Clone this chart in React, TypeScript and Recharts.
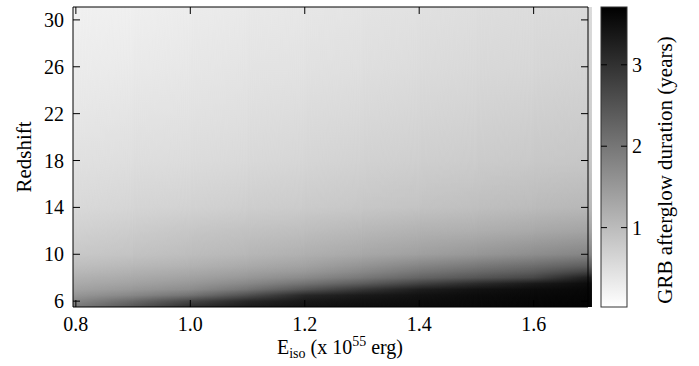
import React from 'react'
import { ComposedChart, XAxis, YAxis, ReferenceArea } from 'recharts'

// E_iso (x 10^55 erg) columns, redshift rows (top to bottom)
const energies = [0.8, 0.9, 1.0, 1.1, 1.2, 1.3, 1.4, 1.5, 1.6, 1.7]
const redshifts = [31, 26, 22, 18, 14, 12, 10, 9, 8.5, 8, 7.5, 7, 6.5, 6, 5.5]

// afterglow duration in years, one list per energy, in redshift order
const dur080 = [0.23, 0.30, 0.37, 0.46, 0.57, 0.69, 0.82, 0.96, 1.05, 1.15, 1.25, 1.37, 1.54, 1.76, 1.98]
const dur090 = [0.26, 0.33, 0.42, 0.50, 0.63, 0.76, 0.89, 1.05, 1.15, 1.25, 1.37, 1.51, 1.76, 2.19, 2.48]
const dur100 = [0.30, 0.37, 0.44, 0.53, 0.68, 0.85, 0.98, 1.14, 1.25, 1.37, 1.51, 1.69, 2.05, 2.70, 3.06]
const dur110 = [0.34, 0.42, 0.49, 0.57, 0.73, 0.91, 1.07, 1.25, 1.38, 1.53, 1.74, 2.03, 2.55, 3.13, 3.33]
const dur120 = [0.37, 0.44, 0.53, 0.62, 0.78, 0.96, 1.17, 1.37, 1.51, 1.72, 2.05, 2.48, 3.13, 3.36, 3.45]
const dur130 = [0.42, 0.49, 0.57, 0.68, 0.83, 1.05, 1.28, 1.57, 1.74, 1.98, 2.38, 2.92, 3.33, 3.45, 3.51]
const dur140 = [0.46, 0.53, 0.62, 0.72, 0.89, 1.14, 1.40, 1.79, 2.00, 2.26, 2.76, 3.28, 3.45, 3.51, 3.54]
const dur150 = [0.50, 0.57, 0.66, 0.76, 0.95, 1.18, 1.53, 1.96, 2.19, 2.48, 3.07, 3.45, 3.54, 3.57, 3.58]
const dur160 = [0.53, 0.60, 0.70, 0.81, 1.01, 1.27, 1.66, 2.13, 2.38, 2.70, 3.33, 3.54, 3.58, 3.61, 3.62]
const dur170 = [0.56, 0.65, 0.75, 0.85, 1.07, 1.35, 1.80, 2.37, 2.77, 3.31, 3.54, 3.59, 3.62, 3.64, 3.65]
const durations = [dur080, dur090, dur100, dur110, dur120, dur130, dur140, dur150, dur160, dur170]

const xTicks = [0.8, 1.0, 1.2, 1.4, 1.6]
const yTicks = [6, 10, 14, 18, 22, 26, 30]
const cbTicks = [1, 2, 3]

const X_DOMAIN: [number, number] = [0.795, 1.695]
const Y_DOMAIN: [number, number] = [5.5, 31.1]
const CB_DOMAIN: [number, number] = [0.025, 3.71]

const PLOT_LEFT = 73
const PLOT_RIGHT = 588
const PLOT_TOP = 7
const PLOT_BOTTOM = 307
const TICK = 7
const FONT = '"Liberation Serif", "Times New Roman", serif'

const grey = (v: number) => {
  const t = (CB_DOMAIN[1] - v) / (CB_DOMAIN[1] - CB_DOMAIN[0])
  const g = Math.round(255 * Math.min(1, Math.max(0, t)))
  return `rgb(${g},${g},${g})`
}

const stopOffset = (z: number) => (Y_DOMAIN[1] - z) / (Y_DOMAIN[1] - Y_DOMAIN[0])

function columnGradient(id: string, col: number) {
  return (
    <linearGradient id={id} x1="0" y1="0" x2="0" y2="1">
      {redshifts.map((z, j) => (
        <stop key={j} offset={stopOffset(z)} stopColor={grey(durations[col][j])} />
      ))}
    </linearGradient>
  )
}

// left column fills the cell, right column fades in across it
const cellShape = (id: string, left: number, right: number | null) => (p: any) => {
  const { x, y, width, height } = p
  return (
    <g>
      <defs>
        {columnGradient(`${id}a`, left)}
        {right != null && columnGradient(`${id}b`, right)}
        <linearGradient id={`${id}r`} gradientUnits="userSpaceOnUse" x1={x} y1={0} x2={x + width} y2={0}>
          <stop offset={0} stopColor="#fff" stopOpacity={0} />
          <stop offset={1} stopColor="#fff" stopOpacity={1} />
        </linearGradient>
        <mask
          id={`${id}m`}
          maskUnits="userSpaceOnUse"
          maskContentUnits="userSpaceOnUse"
          x={x}
          y={y}
          width={width + 1}
          height={height}
          style={{ maskType: 'alpha' }}
        >
          <rect x={x} y={y} width={width + 1} height={height} fill={`url(#${id}r)`} />
        </mask>
      </defs>
      <rect x={x} y={y} width={width + 1} height={height} fill={`url(#${id}a)`} />
      {right != null && (
        <rect x={x} y={y} width={width + 1} height={height} fill={`url(#${id}b)`} mask={`url(#${id}m)`} />
      )}
    </g>
  )
}

const cells = energies.slice(0, -1).map((e, i) => ({ x1: e, x2: energies[i + 1], left: i, right: i + 1 }))

function XTick(props: any) {
  const { x, payload } = props
  return (
    <g>
      <line x1={x} x2={x} y1={PLOT_BOTTOM} y2={PLOT_BOTTOM - TICK} stroke="#000" />
      <line x1={x} x2={x} y1={PLOT_TOP} y2={PLOT_TOP + TICK} stroke="#000" />
      <text x={x} y={331} textAnchor="middle" fontSize={20} fill="#000" fontFamily={FONT}>
        {payload.value.toFixed(1)}
      </text>
    </g>
  )
}

function YTick(props: any) {
  const { y, payload } = props
  return (
    <g>
      <line x1={PLOT_LEFT} x2={PLOT_LEFT + TICK} y1={y} y2={y} stroke="#000" />
      <line x1={PLOT_RIGHT - TICK} x2={PLOT_RIGHT} y1={y} y2={y} stroke="#000" />
      <text x={64} y={y + 7} textAnchor="end" fontSize={20} fill="#000" fontFamily={FONT}>
        {payload.value}
      </text>
    </g>
  )
}

const CB_LEFT = 601
const CB_RIGHT = 627

function CbTick(props: any) {
  const { y, payload } = props
  return (
    <g>
      <line x1={CB_LEFT} x2={CB_LEFT + 6} y1={y} y2={y} stroke="#000" />
      <line x1={CB_RIGHT - 6} x2={CB_RIGHT} y1={y} y2={y} stroke="#000" />
      <text x={632} y={y + 7} fontSize={20} fill="#000" fontFamily={FONT}>
        {payload.value}
      </text>
    </g>
  )
}

function ColorBar() {
  const h = PLOT_BOTTOM - PLOT_TOP
  return (
    <g>
      <defs>
        <linearGradient id="cbGrad" x1="0" y1="0" x2="0" y2="1">
          <stop offset={0} stopColor={grey(CB_DOMAIN[1])} />
          <stop offset={1} stopColor={grey(CB_DOMAIN[0])} />
        </linearGradient>
      </defs>
      <rect x={CB_LEFT} y={PLOT_TOP} width={CB_RIGHT - CB_LEFT} height={h} fill="url(#cbGrad)" stroke="#333" />
      <text
        x={672}
        y={170}
        transform="rotate(-90 672 170)"
        textAnchor="middle"
        fontSize={21}
        fill="#000"
        fontFamily={FONT}
      >
        GRB afterglow duration (years)
      </text>
    </g>
  )
}

function RedshiftLabel() {
  return (
    <text x={31} y={157} transform="rotate(-90 31 157)" textAnchor="middle" fontSize={21} fill="#000" fontFamily={FONT}>
      Redshift
    </text>
  )
}

function EnergyLabel() {
  return (
    <text x={340} y={354} textAnchor="middle" fontSize={20} fill="#000" fontFamily={FONT}>
      E<tspan fontSize={14} dy={4}>iso</tspan>
      <tspan dy={-4}> (x 10</tspan>
      <tspan fontSize={14} dy={-8}>55</tspan>
      <tspan dy={8}> erg)</tspan>
    </text>
  )
}

export default function App() {
  return (
    <div style={{ position: 'absolute', left: 0, top: 0, background: '#fff', fontFamily: FONT }}>
      <ComposedChart width={699} height={366} margin={{ top: PLOT_TOP, right: 0, bottom: 0, left: 0 }}>
        <XAxis
          type="number"
          dataKey="e"
          domain={X_DOMAIN}
          ticks={xTicks}
          interval={0}
          allowDataOverflow
          height={59}
          axisLine={false}
          tickLine={false}
          tick={<XTick />}
          label={() => <EnergyLabel />}
        />
        <YAxis
          type="number"
          domain={Y_DOMAIN}
          ticks={yTicks}
          interval={0}
          allowDataOverflow
          width={PLOT_LEFT}
          axisLine={false}
          tickLine={false}
          tick={<YTick />}
          label={() => <RedshiftLabel />}
        />
        <YAxis
          yAxisId="cb"
          orientation="right"
          type="number"
          domain={CB_DOMAIN}
          ticks={cbTicks}
          interval={0}
          allowDataOverflow
          width={699 - PLOT_RIGHT}
          axisLine={false}
          tickLine={false}
          tick={<CbTick />}
          label={() => <ColorBar />}
        />
        <ReferenceArea
          x1={X_DOMAIN[0]}
          x2={energies[0]}
          y1={Y_DOMAIN[0]}
          y2={Y_DOMAIN[1]}
          ifOverflow="hidden"
          shape={cellShape('pad', 0, null)}
        />
        {cells.map((c, i) => (
          <ReferenceArea
            key={i}
            x1={c.x1}
            x2={c.x2}
            y1={Y_DOMAIN[0]}
            y2={Y_DOMAIN[1]}
            ifOverflow="hidden"
            shape={cellShape(`cell${i}`, c.left, c.right)}
          />
        ))}
        <ReferenceArea
          x1={X_DOMAIN[0]}
          x2={X_DOMAIN[1]}
          y1={Y_DOMAIN[0]}
          y2={Y_DOMAIN[1]}
          fill="none"
          fillOpacity={0}
          stroke="#000"
          strokeWidth={1}
        />
      </ComposedChart>
    </div>
  )
}
